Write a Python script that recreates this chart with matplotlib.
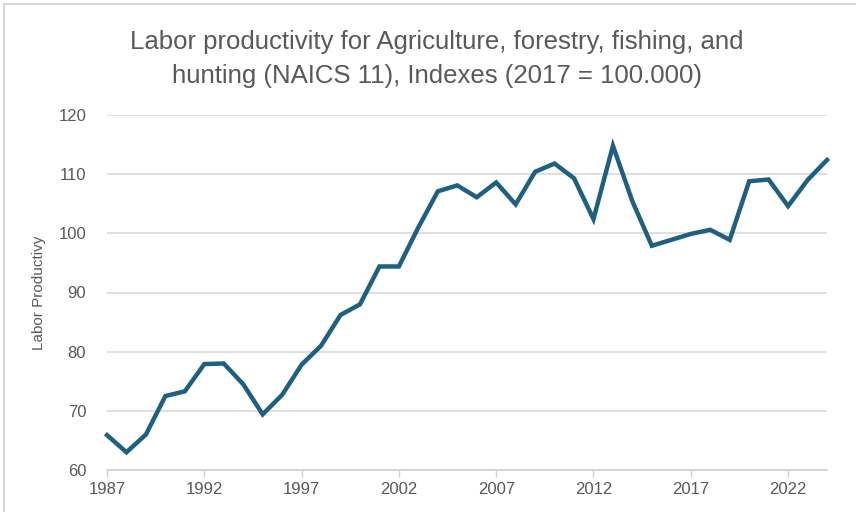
import matplotlib
matplotlib.use("Agg")
import matplotlib.pyplot as plt
from matplotlib.patches import Rectangle
from matplotlib import font_manager

years = list(range(1987, 2025))
productivity = [65.9, 63.0, 66.0, 72.5, 73.3, 77.9, 78.0, 74.5, 69.4, 72.7,
                77.8, 81.0, 86.2, 88.0, 94.4, 94.4, 101.0, 107.1, 108.1, 106.1,
                108.6, 104.9, 110.4, 111.8, 109.3, 102.4, 114.8, 105.4, 97.9, 98.9,
                99.9, 100.6, 98.9, 108.8, 109.1, 104.6, 109.0, 112.4]
xtick_years = [1987, 1992, 1997, 2002, 2007, 2012, 2017, 2022]
yticks = [60, 70, 80, 90, 100, 110, 120]
title = "Labor productivity for Agriculture, forestry, fishing, and\nhunting (NAICS 11), Indexes (2017 = 100.000)"
ylabel = "Labor Productivy"

names = {f.name for f in font_manager.fontManager.ttflist}
title_font = "Liberation Sans Narrow" if "Liberation Sans Narrow" in names else (
    "Liberation Sans" if "Liberation Sans" in names else "DejaVu Sans")
tick_font = "Liberation Sans" if "Liberation Sans" in names else "DejaVu Sans"

fig = plt.figure(figsize=(8.56, 5.12), dpi=100)
fig.patch.set_facecolor("white")

# chart frame border
fig.patches.append(Rectangle((4/856, -0.1), 1.2, 1 - 4/512 + 0.1, transform=fig.transFigure,
                             fill=False, edgecolor="#d0d0d0", lw=1.2))

ax = fig.add_axes([107/856, 1 - 470/512, (827 - 107)/856, (470 - 115)/512])
ax.plot(years, productivity, color="#1f5f80", lw=3.2, solid_joinstyle="miter", clip_on=False, zorder=3)

ax.set_xlim(1987, 2024)
ax.set_ylim(60, 120)
ax.set_yticks(yticks)
ax.set_xticks(xtick_years)
ax.grid(axis="y", color="#d9d9d9", lw=1.2)
ax.set_axisbelow(True)
for s in ["top", "right", "left"]:
    ax.spines[s].set_visible(False)
ax.spines["bottom"].set_color("#d0d0d0")
ax.spines["bottom"].set_linewidth(1.2)
ax.tick_params(axis="y", length=0, pad=15, labelsize=12, labelcolor="#595959")
ax.tick_params(axis="x", length=5, width=1, color="#d0d0d0", pad=4, labelsize=12, labelcolor="#595959")
for lab in ax.get_xticklabels() + ax.get_yticklabels():
    lab.set_fontfamily(tick_font)

ax.set_ylabel(ylabel, color="#595959", fontsize=11, fontfamily=tick_font, labelpad=9)

fig.text(437/856, 1 - 59/512, title, ha="center", va="center", fontsize=18.5,
         color="#595959", fontfamily=title_font, linespacing=1.5)

fig.savefig("out.png", dpi=100)
